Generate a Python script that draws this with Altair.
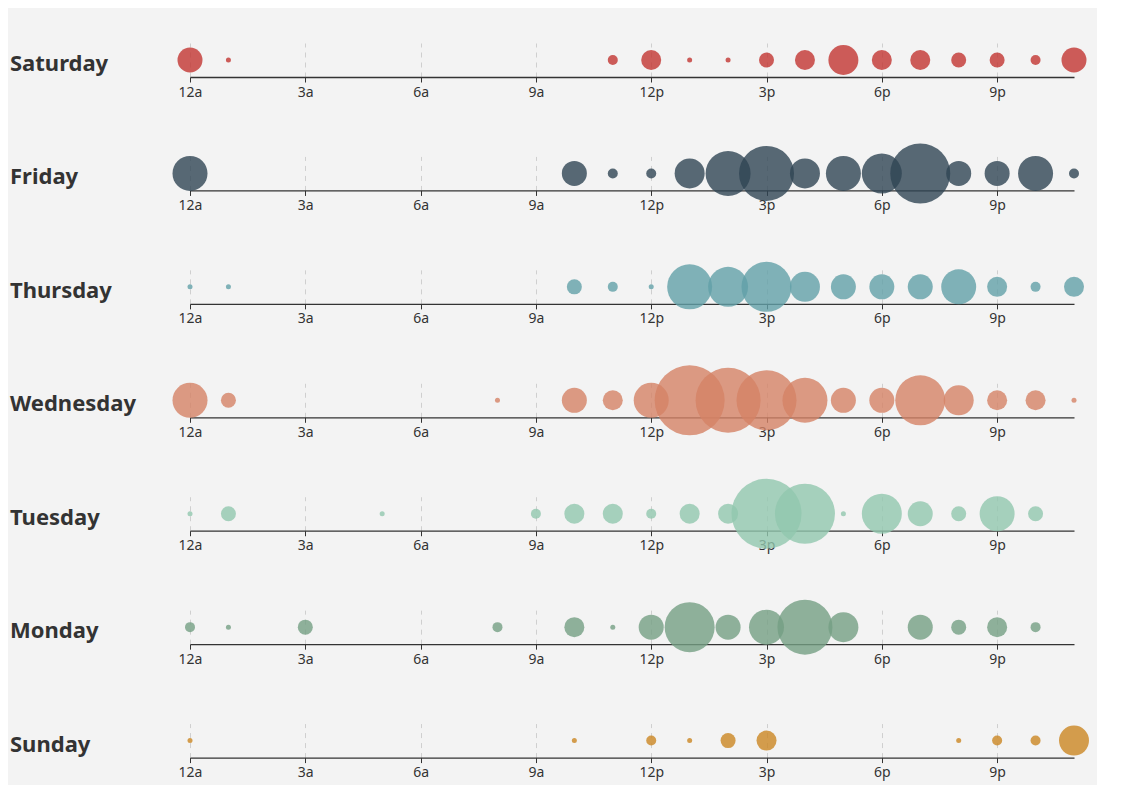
import altair as alt
import pandas as pd

hours = ['12a', '1a', '2a', '3a', '4a', '5a', '6a', '7a', '8a', '9a', '10a', '11a',
         '12p', '1p', '2p', '3p', '4p', '5p', '6p', '7p', '8p', '9p', '10p', '11p']
days = ['Saturday', 'Friday', 'Thursday', 'Wednesday', 'Tuesday', 'Monday', 'Sunday']
colors = ['#c23531', '#2f4554', '#61a0a8', '#d48265', '#91c7ae', '#749f83', '#ca8622']

saturday = [5, 1, 0, 0, 0, 0, 0, 0, 0, 0, 0, 2, 4, 1, 1, 3, 4, 6, 4, 4, 3, 3, 2, 5]
friday = [7, 0, 0, 0, 0, 0, 0, 0, 0, 0, 5, 2, 2, 6, 9, 11, 6, 7, 8, 12, 5, 5, 7, 2]
thursday = [1, 1, 0, 0, 0, 0, 0, 0, 0, 0, 3, 2, 1, 9, 8, 10, 6, 5, 5, 5, 7, 4, 2, 4]
wednesday = [7, 3, 0, 0, 0, 0, 0, 0, 1, 0, 5, 4, 7, 14, 13, 12, 9, 5, 5, 10, 6, 4, 4, 1]
tuesday = [1, 3, 0, 0, 0, 1, 0, 0, 0, 2, 4, 4, 2, 4, 4, 14, 12, 1, 8, 5, 3, 7, 3, 0]
monday = [2, 1, 0, 3, 0, 0, 0, 0, 2, 0, 4, 1, 5, 10, 5, 7, 11, 6, 0, 5, 3, 4, 2, 0]
sunday = [1, 0, 0, 0, 0, 0, 0, 0, 0, 0, 1, 0, 2, 1, 3, 4, 0, 0, 0, 0, 1, 2, 2, 6]
series = [saturday, friday, thursday, wednesday, tuesday, monday, sunday]

FONT = 'Noto Sans'
H = 34
W = 884
UNIT = 5.0  # diameter per unit value
VMAX = 14

panels = []
for day, vals, col in zip(days, series, colors):
    df = pd.DataFrame({'hour': hours, 'value': vals, 'day': day})
    df = df[df['value'] > 0]
    circles = alt.Chart(df).mark_circle(opacity=0.8, color=col).encode(
        x=alt.X('hour:O',
                scale=alt.Scale(domain=hours, padding=0),
                axis=alt.Axis(values=hours[::3], title=None, labelAngle=0,
                              grid=True, gridDash=[5, 5], gridColor='#cfcfcf', gridWidth=1,
                              domainColor='#333333', domainWidth=1.3,
                              tickColor='#333333', tickSize=5, tickWidth=1,
                              labelFont=FONT, labelFontSize=14, labelColor='#333333',
                              labelPadding=3)),
        y=alt.value(H / 2),
        size=alt.Size('value:Q',
                      scale=alt.Scale(type='pow', exponent=2, domain=[0, VMAX],
                                      range=[0, (VMAX * UNIT) ** 2]),
                      legend=None),
    )
    label = alt.Chart(pd.DataFrame({'day': [day]})).mark_text(
        align='left', baseline='middle', fontSize=22, fontWeight='bold',
        font=FONT, color='#333333'
    ).encode(x=alt.value(-180), y=alt.value(H / 2 + 4), text='day:N')
    panels.append(alt.layer(circles, label).properties(width=W, height=H))

chart = alt.vconcat(*panels, spacing=113.43 - H, bounds='flush').properties(
    background='#f3f3f3',
    padding={'left': 2, 'top': 35, 'right': 8, 'bottom': 5},
).configure_view(stroke=None)

chart.save('out.html', embed_options={'renderer': 'svg', 'actions': False})
